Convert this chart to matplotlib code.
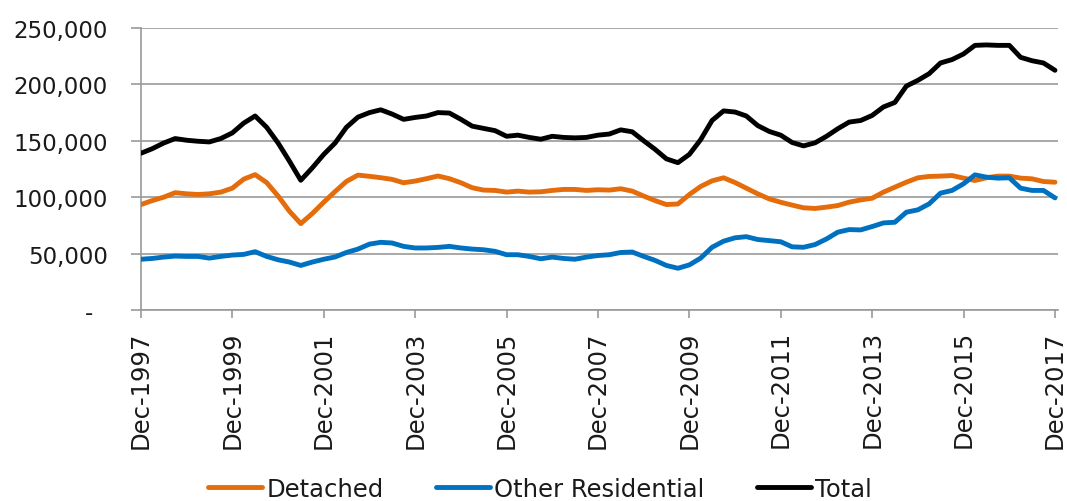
import matplotlib
matplotlib.use("Agg")
import matplotlib.pyplot as plt
import matplotlib.ticker as mticker
import pandas as pd
import numpy as np

# Quarterly dwelling values, Dec-1997 to Dec-2017
quarters = pd.date_range("1997-12-31", "2017-12-31", freq="QE-DEC")

detached = [
    93.5, 97, 100, 104, 103, 102.4, 103, 104.5, 108, 116, 120, 113, 101, 87.6, 76.6, 85.5,
    95.6, 105, 114, 119.6, 118.5, 117.3, 115.8, 112.8, 114.3, 116.4, 118.8, 116.4, 112.8,
    108.4, 106.3, 106, 104.5, 105.4, 104.5, 104.8, 106, 106.9, 106.9, 106, 106.6, 106.3,
    107.5, 105.4, 101, 97, 93.5, 94, 102.4, 109.5, 114.5, 117.2, 113, 108, 103, 98.5, 95.5,
    93, 90.6, 90, 91.2, 92.6, 95.6, 97.6, 99.1, 104.5, 108.9, 113.3, 117.2, 118.4, 118.7,
    119.2, 116.9, 114.8, 117.2, 118.7, 118.7, 116.9, 116.3, 113.9, 113.3,
]
other_residential = [
    45, 45.7, 46.9, 47.8, 47.5, 47.5, 46, 47.5, 48.7, 49.3, 51.7, 47.5, 44.5, 42.5, 39.5,
    42.5, 45, 47, 51, 54, 58.4, 60, 59.4, 56.4, 55, 55, 55.5, 56.4, 55, 54, 53.4, 52, 49, 49,
    47.5, 45.4, 46.9, 45.7, 45, 46.9, 48.3, 49, 51, 51.4, 47.5, 44, 39.5, 37, 40, 46, 55.6,
    61, 64, 65, 62.5, 61.5, 60.5, 56, 55.6, 58, 63, 69, 71.3, 71, 74, 77.2, 77.8, 86.7,
    88.8, 94.1, 103.6, 106, 111.9, 119.8, 117.8, 116.9, 117.2, 108, 106, 106, 99.4,
]
total = [
    139, 143, 148, 152, 150.5, 149.6, 149, 152, 157, 165.7, 172, 162, 148, 132, 115, 126,
    138, 148, 162, 171, 175, 177.5, 173.7, 169, 170.7, 172, 175, 174.6, 169, 163, 161, 159,
    154, 155, 153, 151.4, 154, 153, 152.6, 153, 155, 156, 159.7, 158, 150, 142.5, 134,
    130.6, 138, 151, 168, 176.5, 175.5, 172, 163.5, 158.3, 155, 148.5, 145.5, 148.2, 154,
    160.7, 166.6, 168, 172.5, 180, 184, 198.5, 203.6, 209.5, 219, 222, 227, 234.6, 235,
    234.6, 234.6, 224, 221, 219, 212.5,
]
series_names = ["Detached", "Other Residential", "Total"]
series_colors = ["#E46C0A", "#0070C0", "#000000"]
y_ticks = [0, 50000, 100000, 150000, 200000, 250000]

plt.rcParams["font.family"] = ["DejaVu Sans"]

fig = plt.figure(figsize=(10.67, 5.02), dpi=100)
ax = fig.add_axes([141 / 1067, 1 - 311 / 502, (1058 - 141) / 1067, (311 - 29) / 502])

for name, vals, color in zip(series_names, [detached, other_residential, total], series_colors):
    ax.plot(quarters, np.array(vals) * 1000, color=color, lw=3.5, label=name,
            solid_joinstyle="round", solid_capstyle="round", zorder=3)

grey = "#999999"
ax.set_ylim(0, 250000)
ax.set_yticks(y_ticks)
ax.yaxis.set_major_formatter(mticker.FuncFormatter(lambda v, p: "-  " if v == 0 else f"{v:,.0f}"))
ax.grid(axis="y", color=grey, lw=1.2, zorder=0)
ax.set_axisbelow(True)

ax.set_xlim(quarters[0], quarters[-1] + pd.Timedelta(days=24))
tick_dates = quarters[::8]
ax.set_xticks(tick_dates)
ax.set_xticklabels([d.strftime("%b-%Y") for d in tick_dates], rotation=90)

for side in ["top", "right"]:
    ax.spines[side].set_visible(False)
for side in ["left", "bottom"]:
    ax.spines[side].set_color(grey)
    ax.spines[side].set_linewidth(1.2)

ax.tick_params(axis="y", length=7, width=1.2, color=grey, labelsize=16.5, pad=17, labelcolor="#1a1a1a")
ax.tick_params(axis="x", length=6, width=1.2, color=grey, labelsize=17.5, pad=8.5, labelcolor="#1a1a1a")

fig.legend(loc="center", bbox_to_anchor=(0.506, 0.024), ncol=3, frameon=False,
           fontsize=17.5, handlelength=2.22, handletextpad=0.17, columnspacing=2.15,
           labelcolor="#1a1a1a")

fig.savefig("out.png", dpi=100)
